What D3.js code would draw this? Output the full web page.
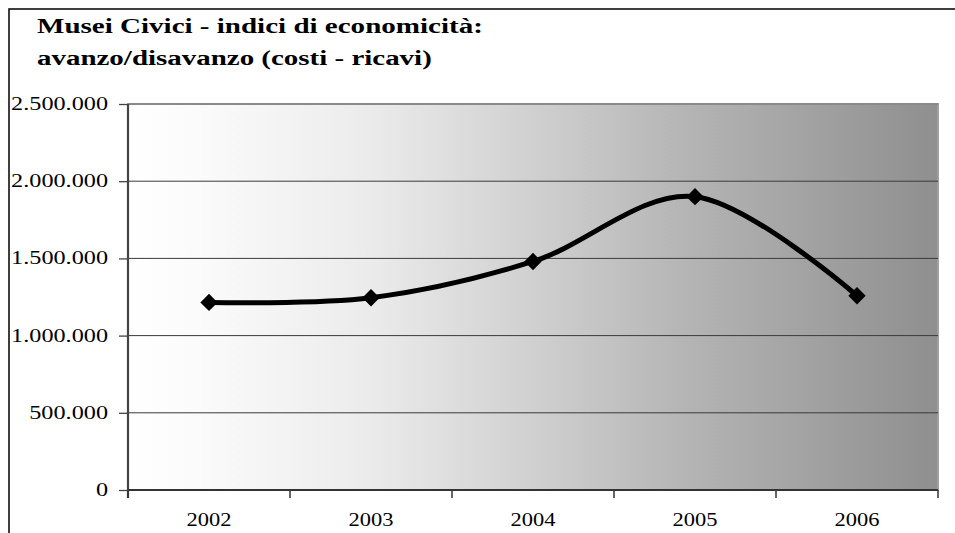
<!DOCTYPE html>
<html>
<head>
<meta charset="utf-8">
<script src="https://cdn.jsdelivr.net/npm/d3@7"></script>
<style>
    body { margin: 0; background: #fff; }
    svg { display: block; }
    text { font-family: "Liberation Serif", "Times New Roman", serif; }
</style>
</head>
<body>
<script>
//dati
const titleLines = ["Musei Civici - indici di economicità:", "avanzo/disavanzo (costi - ricavi)"];
const years = ["2002", "2003", "2004", "2005", "2006"];
const saldo = [1215000, 1245000, 1480000, 1900000, 1258000];
const yTicks = [0, 500000, 1000000, 1500000, 2000000, 2500000];

const W = 955, H = 533;
const plot = { left: 128, right: 938, top: 104, bottom: 490 };

const itFormat = d3.formatLocale({ decimal: ",", thousands: ".", grouping: [3], currency: ["€", ""] }).format(",d");

const svg = d3.select("body").append("svg")
    .attr("width", W)
    .attr("height", H);

//gradiente dello sfondo
const grad = svg.append("defs").append("linearGradient")
    .attr("id", "sfondo")
    .attr("x1", "0%").attr("x2", "100%")
    .attr("y1", "0%").attr("y2", "0%");
[[0, "#ffffff"], [10, "#fafafa"], [30, "#ebebeb"], [50, "#d0d0d0"], [70, "#b3b3b3"], [90, "#9b9b9b"], [100, "#8f8f8f"]]
    .forEach(s => grad.append("stop").attr("offset", s[0] + "%").attr("stop-color", s[1]));

//cornice esterna
svg.append("path")
    .attr("d", `M9,${H} L9,9 L${W},9`)
    .attr("fill", "none")
    .attr("stroke", "#000")
    .attr("stroke-width", 1.5);

const x = d3.scaleBand()
    .domain(years)
    .range([plot.left, plot.right]);

const y = d3.scaleLinear()
    .domain([0, 2500000])
    .range([plot.bottom, plot.top]);

//area del grafico
svg.append("rect")
    .attr("x", plot.left)
    .attr("y", plot.top)
    .attr("width", plot.right - plot.left)
    .attr("height", plot.bottom - plot.top)
    .attr("fill", "url(#sfondo)")
    .attr("stroke", "#a0a0a0")
    .attr("stroke-width", 2);

//griglia
svg.append("g")
    .selectAll("line")
    .data(yTicks)
    .join("line")
    .attr("x1", plot.left)
    .attr("x2", plot.right)
    .attr("y1", d => y(d))
    .attr("y2", d => y(d))
    .attr("stroke", d => d === 2500000 ? "#8a8a8a" : "#3a3a3a")
    .attr("stroke-width", d => d === 2500000 ? 2 : 1);

//testo allargato in orizzontale come nell'originale
function stretchText(sel, width) {
    sel.each(function () {
        const w = this.getComputedTextLength();
        const t = d3.select(this).attr("transform");
        d3.select(this).attr("transform", `${t} scale(${width / w},1)`);
    });
}

//asse y
const yAxis = svg.append("g")
    .attr("transform", `translate(${plot.left},0)`)
    .call(d3.axisLeft(y).tickValues(yTicks).tickSize(9).tickFormat(""));
yAxis.select(".domain")
    .attr("d", `M0,${plot.top} V${plot.bottom + 8}`)
    .attr("stroke", "#444")
    .attr("stroke-width", 2.2);
yAxis.selectAll(".tick line").attr("stroke", "#444").attr("stroke-width", 1.3);

const yLab = svg.append("g")
    .selectAll("text")
    .data(yTicks)
    .join("text")
    .attr("transform", d => `translate(108,${y(d) + 6})`)
    .attr("text-anchor", "end")
    .attr("font-size", 18.5)
    .attr("fill", "#000")
    .text(d => itFormat(d));
//larghezza di riferimento: "2.500.000" ~97px
const ref = yLab.filter(d => d === 2500000).node();
const yScaleX = 97 / ref.getComputedTextLength();
yLab.attr("transform", d => `translate(108,${y(d) + 6}) scale(${yScaleX},1)`);

//asse x
const xAxis = svg.append("g")
    .attr("transform", `translate(0,${plot.bottom})`)
    .call(d3.axisBottom(x).tickSize(0).tickFormat(""));
xAxis.select(".domain")
    .attr("d", `M${plot.left},0 H${plot.right}`)
    .attr("stroke", "#333")
    .attr("stroke-width", 2);

const bordi = years.map(d => x(d)).concat([x(years[years.length - 1]) + x.bandwidth()]);
svg.append("g")
    .selectAll("line")
    .data(bordi)
    .join("line")
    .attr("x1", d => d)
    .attr("x2", d => d)
    .attr("y1", plot.bottom)
    .attr("y2", plot.bottom + 8)
    .attr("stroke", "#333")
    .attr("stroke-width", 1.5);

svg.append("g")
    .selectAll("text")
    .data(years)
    .join("text")
    .attr("transform", d => `translate(${x(d) + x.bandwidth() / 2},526)`)
    .attr("text-anchor", "middle")
    .attr("font-size", 18.5)
    .attr("fill", "#000")
    .text(d => d)
    .call(stretchText, 45);

//linea smussata
const punti = years.map((d, i) => [x(d) + x.bandwidth() / 2, y(saldo[i])]);

svg.append("path")
    .datum(punti)
    .attr("d", d3.line().curve(d3.curveCardinal.tension(0)))
    .attr("fill", "none")
    .attr("stroke", "#000")
    .attr("stroke-width", 5)
    .attr("stroke-linejoin", "round");

svg.append("g")
    .selectAll("path")
    .data(punti)
    .join("path")
    .attr("d", d3.symbol().type(d3.symbolSquare).size(150))
    .attr("transform", d => `translate(${d[0]},${d[1]}) rotate(45)`)
    .attr("fill", "#000");

//titolo
const titleW = [446, 395];
svg.append("g")
    .selectAll("text")
    .data(titleLines)
    .join("text")
    .attr("transform", (d, i) => `translate(37,${33 + i * 32})`)
    .attr("font-weight", "bold")
    .attr("font-size", 20)
    .attr("fill", "#000")
    .text(d => d)
    .each(function (d, i) {
        d3.select(this).call(stretchText, titleW[i]);
    });
</script>
</body>
</html>
